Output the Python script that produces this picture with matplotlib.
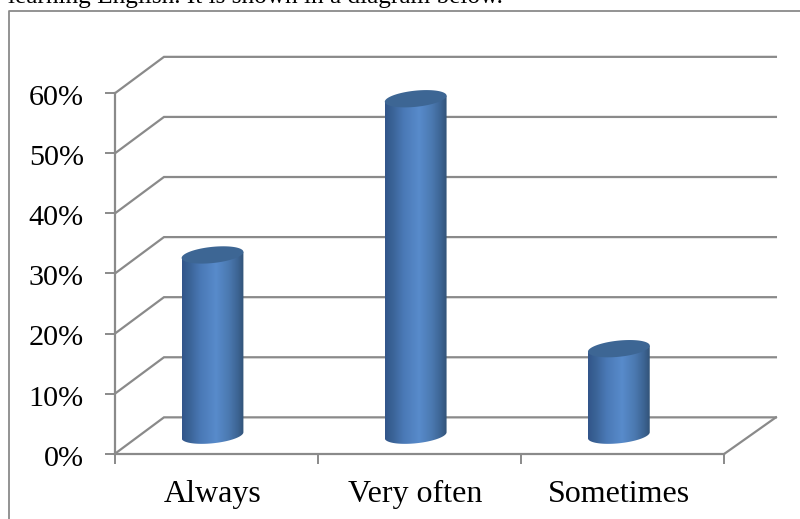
import matplotlib
matplotlib.use('Agg')
import matplotlib.pyplot as plt
import numpy as np
from matplotlib.colors import LinearSegmentedColormap
from matplotlib.lines import Line2D
from matplotlib.patches import PathPatch, Polygon
from matplotlib.path import Path
from matplotlib.transforms import ScaledTranslation

categories = ['Always', 'Very often', 'Sometimes']
values = [30, 56, 14.4]
y_ticks = [0, 10, 20, 30, 40, 50, 60]
y_labels = ['0%', '10%', '20%', '30%', '40%', '50%', '60%']

W, H = 800, 519
GREY = '#8a8a8a'
plt.rcParams['font.family'] = ['Liberation Serif', 'DejaVu Serif']

fig = plt.figure(figsize=(W / 100, H / 100), dpi=100)
ax = fig.add_axes([115 / W, 1 - 453.7 / H, 609.5 / W, 360.5 / H])
ax.set_facecolor('none')

# text line and frame of the surrounding page
fig.text(8 / W, 1 - 3 / H, 'learning English. It is shown in a diagram below.',
         fontsize=18.2, color='black', va='baseline', ha='left')
fig.add_artist(Line2D([9.3 / W, 9.3 / W, 1], [0, 1 - 10.8 / H, 1 - 10.8 / H],
                      color=GREY, lw=1.3))

# depth of the fake 3d floor, in axis units
depth_x = 0.241
depth_y = 6.05
back_right = 3.253

for y in y_ticks:
    ax.plot([0, depth_x, back_right], [y, y + depth_y, y + depth_y],
            color=GREY, lw=1.6, clip_on=False, zorder=1, solid_joinstyle='miter')
ax.plot([3, back_right], [0, depth_y], color=GREY, lw=1.6, clip_on=False, zorder=1)

# cylinders: horizontal gradient clipped to the body, flat ellipse on top
bar_pos = [0.48, 1.48, 2.48]
half_w = 0.152
base_y = 3.08
ell_h = 1.35
tilt = 0.5
shade = LinearSegmentedColormap.from_list('cyl', [
    (0.0, '#32558a'), (0.12, '#3a6396'), (0.3, '#4a79b6'), (0.55, '#588bcb'),
    (0.75, '#4c7ab2'), (0.9, '#3d6594'), (1.0, '#325378')])
gradient = np.linspace(0, 1, 256).reshape(1, -1)
t = np.linspace(0, 2 * np.pi, 181)

for x, v in zip(bar_pos, values):
    # lower rim runs right to left, then the outline closes over the top edge
    low = t[t <= np.pi]
    rim_x = x + half_w * np.cos(low)
    rim_y = base_y + tilt * np.cos(low) - ell_h * np.sin(low)
    top = base_y + v
    body_x = np.r_[rim_x, x - half_w, x + half_w]
    body_y = np.r_[rim_y, top - tilt, top + tilt]
    body = PathPatch(Path(np.c_[body_x, body_y], closed=False), fc='none', ec='none',
                     transform=ax.transData)
    ax.add_patch(body)
    im = ax.imshow(gradient, cmap=shade, aspect='auto', zorder=3, interpolation='bilinear',
                   extent=[x - half_w, x + half_w, 0, top + 2])
    im.set_clip_path(body)
    cap = np.c_[x + half_w * np.cos(t),
                top + tilt * np.cos(t) + ell_h * np.sin(t)]
    ax.add_patch(Polygon(cap, closed=True, fc='#3d6694', ec='none', zorder=4, clip_on=False))

ax.set_xlim(0, 3)
ax.set_ylim(0, 60)

for side in ['top', 'right']:
    ax.spines[side].set_visible(False)
for side in ['left', 'bottom']:
    ax.spines[side].set_color(GREY)
    ax.spines[side].set_linewidth(1.6)

ax.set_yticks(y_ticks)
ax.set_yticklabels(y_labels)
ax.tick_params(axis='y', length=7, width=1.4, color=GREY, labelsize=21.7, pad=15.5)
nudge = ScaledTranslation(0, -1.4 / 72, fig.dpi_scale_trans)
for lab in ax.get_yticklabels():
    lab.set_transform(lab.get_transform() + nudge)

ax.set_xticks([0, 1, 2, 3])
ax.set_xticklabels([])
ax.set_xticks(bar_pos, minor=True)
ax.set_xticklabels(categories, minor=True)
ax.tick_params(axis='x', which='major', length=7, width=1.4, color=GREY)
ax.tick_params(axis='x', which='minor', length=0, labelsize=23, pad=34.5)
for lab in ax.get_xticklabels(minor=True):
    lab.set_verticalalignment('baseline')

fig.savefig('out.png', dpi=100, facecolor='white')
